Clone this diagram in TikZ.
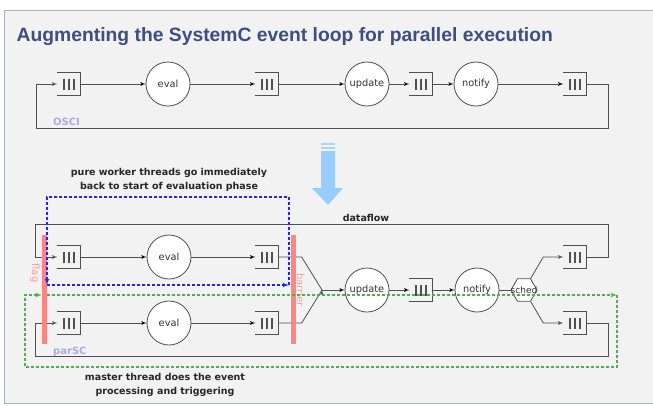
\documentclass[tikz,border=0pt]{standalone}
\usepackage{fontspec}
\setmainfont{DejaVu Sans}
\newfontfamily\titlefont{Liberation Sans}
\usetikzlibrary{arrows,shapes.geometric,positioning}

\definecolor{slidebg}{HTML}{F2F2F2}
\definecolor{slideframe}{HTML}{A9B1C2}
\definecolor{titleblue}{HTML}{3D4E82}
\definecolor{linegray}{HTML}{505050}
\definecolor{barred}{HTML}{FF8585}
\definecolor{labelred}{HTML}{FF9A9A}
\definecolor{labelviolet}{HTML}{ABABE3}
\definecolor{workerblue}{HTML}{2424F2}
\definecolor{mastergreen}{HTML}{4FAF4F}
\definecolor{hintblue}{HTML}{99CCFF}

\newcommand{\qbars}{\rule{1.5pt}{11pt}\hspace{3.3pt}\rule{1.5pt}{11pt}\hspace{3.3pt}\rule{1.5pt}{11pt}}

\tikzset{
  queue/.style={minimum width=23pt, minimum height=23pt, inner sep=0pt, text=linegray},
  qline/.style={draw=linegray, line width=0.9pt},
  phase/.style={circle, draw=linegray, fill=white, line width=0.8pt, minimum size=44pt,
    inner sep=0pt, font=\fontsize{9.8}{10}\selectfont, text=black!80},
  hexa/.style={regular polygon, regular polygon sides=6, minimum size=26pt, inner sep=0pt,
    draw=linegray, fill=white, line width=0.8pt},
  flow/.style={draw=linegray, line width=0.8pt},
  bar/.style={fill=barred, minimum width=5pt, minimum height=109pt, inner sep=0pt},
  barlabel/.style={text=labelred, font=\fontsize{10}{10}\selectfont, inner sep=0pt},
  tag/.style={text=labelviolet, font=\bfseries\fontsize{10}{10}\selectfont, inner sep=0pt},
  note/.style={align=center, text=black!85, font=\bfseries\fontsize{9.5}{14}\selectfont, inner sep=0pt},
  wdash/.style={draw=workerblue, line width=1.2pt, dash pattern=on 3pt off 2pt},
  mdash/.style={draw=mastergreen, line width=1.2pt, dash pattern=on 3pt off 2pt}
}

\begin{document}
\begin{tikzpicture}[x=1pt,y=-1pt,>=latex',node distance=99pt]
  \useasboundingbox (0,0) rectangle (653,405);
  \fill[white] (0,0) rectangle (653,405);
  \draw[slideframe, fill=slidebg, line width=1.2pt] (4.5,10.5) rectangle (660,403.5);

  \node[anchor=base west, inner sep=0pt, text=titleblue,
    font=\titlefont\bfseries\fontsize{19.3}{19.3}\selectfont] (title) at (16.5,41)
    {Augmenting the SystemC event loop for parallel execution};

  % OSCI loop
  \node[queue] (oq1) at (69,84) {\qbars};
  \node[phase] (oeval) [right of=oq1] {eval};
  \node[queue] (oq2) [right of=oeval] {\qbars};
  \node[phase] (oupdate) [right of=oq2, node distance=100pt] {update};
  \node[queue] (oq3) [right of=oupdate, node distance=54pt] {\qbars};
  \node[phase] (onotify) [right of=oq3, node distance=55pt] {notify};
  \node[queue] (oq4) [right of=onotify] {\qbars};
  \coordinate (oright) at (608,128);
  \coordinate (oleft) at (36,128);
  \node[tag, anchor=west] (osci) at (53,122) {OSCI};

  \path[flow,->]
    (oq1)
      edge (oeval)
    (oeval)
      edge (oq2)
    (oq2)
      edge (oupdate)
    (oupdate)
      edge (oq3)
    (oq3)
      edge (onotify)
    (onotify)
      edge (oq4)
  ;
  \draw[flow,->] (oq4.east) -| (oright) -- (oleft) |- (oq1.west);

  % hint arrow
  \fill[hintblue] (321,151) -- (335,151) -- (335,188) -- (343,188) -- (328,205)
    -- (312,188) -- (321,188) -- cycle;
  \fill[hintblue!80] (321,143) rectangle (335,144.5);
  \fill[hintblue!80] (321,146.5) rectangle (335,149);

  % parSC loop
  \node[queue] (wq1) at (69,257) {\qbars};
  \node[phase] (weval) [right of=wq1, node distance=100pt] {eval};
  \node[queue] (wq2) [right of=weval, node distance=98pt] {\qbars};
  \node[queue] (mq1) [below of=wq1, node distance=66pt] {\qbars};
  \node[phase] (meval) [right of=mq1, node distance=100pt] {eval};
  \node[queue] (mq2) [right of=meval, node distance=98pt] {\qbars};
  \coordinate (join) at (322,290);
  \node[phase] (pupdate) at (367,290) {update};
  \node[queue] (pq) [right of=pupdate, node distance=54pt] {\qbars};
  \node[phase] (pnotify) [right of=pq, node distance=56pt] {notify};
  \node[hexa, label={[font=\fontsize{9}{9}\selectfont, text=black!80]center:sched}] (sched) at (524,290) {};
  \node[queue] (dq1) at (575,257) {\qbars};
  \node[queue] (dq2) at (575,323) {\qbars};
  \coordinate (dfr) at (608,224);
  \coordinate (dfl) at (35,224);
  \coordinate (pbr) at (608,356);
  \coordinate (pbl) at (35,356);

  \path[flow,->]
    (wq1)
      edge (weval)
    (weval)
      edge (wq2)
    (mq1)
      edge (meval)
    (meval)
      edge (mq2)
    (join)
      edge (pupdate)
    (pupdate)
      edge (pq)
    (pq)
      edge (pnotify)
  ;
  \draw[flow] (pnotify) -- (sched);
  \draw[flow] (wq2.east) -- ++(23,0) -- (join);
  \draw[flow] (mq2.east) -- ++(23,0) -- (join);
  \draw[flow,->] (sched.60) -- ([xshift=-20pt]dq1.west) -- (dq1.west);
  \draw[flow,->] (sched.-60) -- ([xshift=-20pt]dq2.west) -- (dq2.west);
  \draw[flow,->] (dq1.east) -| (dfr) -- (dfl) |- (wq1.west);
  \draw[flow,->] (dq2.east) -| (pbr) -- (pbl) |- (mq1.west);

  \foreach \q in {oq1,oq2,oq3,oq4,wq1,wq2,mq1,mq2,pq,dq1,dq2}
    \draw[qline] (\q.north west) -| (\q.south east) -- (\q.south west);

  \node[note] (dataflow) at (366,218) {dataflow};
  \node[tag, anchor=west] (parsc) at (53,352) {parSC};

  % flag and barrier
  \node[bar] (flag) at (44.5,289.5) {};
  \node[bar] (barrier) at (293,289.5) {};
  \node[barlabel, rotate=-90] (flaglabel) at (35,273) {flag};
  \node[barlabel, rotate=-90] (barrierlabel) at (300.5,290) {barrier};

  % worker threads
  \coordinate (wl) at (47,285);
  \coordinate (wr) at (289,285);
  \coordinate (wtr) at (289,197);
  \coordinate (wtl) at (47,197);
  \draw[wdash,->] (wl) -- (wr);
  \draw[wdash,->] (wr) -- (wtr) -- (wtl) -- (wl);
  \node[note] (workernote) at (169,179.5)
    {pure worker threads go immediately\\back to start of evaluation phase};

  % master thread
  \coordinate (gl) at (47,295);
  \coordinate (gr) at (617,295);
  \coordinate (gbr) at (617,367);
  \coordinate (gbl) at (25,367);
  \coordinate (gtl) at (25,295);
  \draw[mdash,->] (gl) -- (gr);
  \draw[mdash,->] (gr) -- (gbr) -- (gbl) -- (gtl) -- (flag.west |- gtl);
  \node[note] (masternote) at (165,385)
    {master thread does the event\\processing and triggering};
\end{tikzpicture}
\end{document}
